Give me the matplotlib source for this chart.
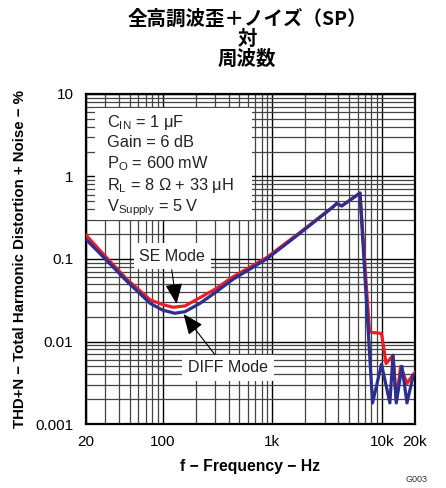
#!/usr/bin/env python3
import matplotlib
matplotlib.use("Agg")
import matplotlib.pyplot as plt
from matplotlib.ticker import FixedLocator, LogLocator, NullFormatter
from matplotlib.patches import Rectangle

plt.rcParams['font.family'] = ['Liberation Sans', 'DejaVu Sans']
plt.rcParams['mathtext.default'] = 'regular'

# THD+N (%) vs frequency (Hz)
se_freq = [20, 30, 47, 77, 100, 125, 160, 219, 300, 440, 887, 1786, 3590,
           3860, 4300, 6300, 7700, 9900, 10900, 12600, 13500, 14800, 16900,
           19300, 20000]
se_thdn = [0.195, 0.108, 0.057, 0.032, 0.028, 0.026, 0.027, 0.034, 0.043,
           0.061, 0.104, 0.21, 0.43, 0.47, 0.44, 0.63, 0.013, 0.0125, 0.0054,
           0.0068, 0.0019, 0.005, 0.0031, 0.004, 0.0042]

diff_freq = [20, 30, 47, 77, 100, 129, 160, 219, 300, 440, 887, 1786, 3590,
             3860, 4300, 6300, 8200, 9900, 11800, 12600, 13500, 15200, 16900,
             19300, 20000]
diff_thdn = [0.173, 0.10, 0.054, 0.029, 0.024, 0.022, 0.023, 0.029, 0.039,
             0.057, 0.10, 0.205, 0.43, 0.47, 0.44, 0.63, 0.0018, 0.0053,
             0.0018, 0.0068, 0.0018, 0.005, 0.0018, 0.0039, 0.004]

x_ticks = [20, 100, 1000, 10000, 20000]
x_labels = ["20", "100", "1k", "10k", "20k"]
y_ticks = [0.001, 0.01, 0.1, 1, 10]
y_labels = ["0.001", "0.01", "0.1", "1", "10"]

conditions = [r"C$_{IN}$ = 1 μF", "Gain = 6 dB", r"P$_{O}$ = 600 mW",
              r"R$_{L}$ = 8 Ω + 33 μH", r"V$_{Supply}$ = 5 V"]

fig = plt.figure(figsize=(4.46, 4.88), dpi=100)
ax = fig.add_axes([86/446, 1-424/488, 329/446, 330/488])

ax.set_xscale('log')
ax.set_yscale('log')
ax.set_xlim(20, 20000)
ax.set_ylim(0.001, 10)

ax.xaxis.set_major_locator(FixedLocator(x_ticks))
ax.set_xticklabels(x_labels)
ax.xaxis.set_minor_locator(LogLocator(base=10, subs=range(2, 10), numticks=20))
ax.xaxis.set_minor_formatter(NullFormatter())
ax.yaxis.set_major_locator(FixedLocator(y_ticks))
ax.set_yticklabels(y_labels)
ax.yaxis.set_minor_locator(LogLocator(base=10, subs=range(2, 10), numticks=20))
ax.yaxis.set_minor_formatter(NullFormatter())

ax.tick_params(which='both', length=0)
ax.tick_params(axis='x', pad=8, labelsize=11)
ax.tick_params(axis='y', pad=9, labelsize=11)

ax.set_axisbelow(True)
ax.grid(which='major', color='black', lw=1.0)
ax.grid(which='minor', color='#444444', lw=0.9)
for s in ax.spines.values():
    s.set_linewidth(1.6)

ax.plot(se_freq, se_thdn, color='#ee1c25', lw=2.3, zorder=3)
ax.plot(diff_freq, diff_thdn, color='#2b2f8f', lw=2.3, zorder=4)

# conditions box
ax.add_patch(Rectangle((0.027, 0.618), 0.477, 0.34, transform=ax.transAxes,
                       facecolor='white', edgecolor='none', zorder=2))
for yy, t in zip([0.90, 0.839, 0.776, 0.709, 0.645], conditions):
    ax.text(0.064, yy, t, transform=ax.transAxes, fontsize=11.8,
            va='baseline', ha='left', color='#222222', zorder=5)

# annotations
arr = dict(arrowstyle='-|>,head_length=0.9,head_width=0.38', color='black',
           lw=0.8, mutation_scale=14, shrinkA=0, shrinkB=0)
ax.annotate('', xy=(134, 0.0285), xytext=(121, 0.074), arrowprops=arr, zorder=6)
ax.annotate('', xy=(155, 0.0215), xytext=(300, 0.0069), arrowprops=arr, zorder=6)
ax.text(122, 0.108, "SE Mode", fontsize=11.5, ha='center', va='center',
        color='#222222', zorder=5,
        bbox=dict(facecolor='white', edgecolor='none', pad=4))
ax.text(394, 0.0048, "DIFF Mode", fontsize=11.5, ha='center', va='center',
        color='#222222', zorder=5,
        bbox=dict(facecolor='white', edgecolor='none', pad=4))

ax.set_xlabel("f − Frequency − Hz", fontsize=11.3, fontweight='bold', labelpad=7)
ax.set_ylabel("THD+N − Total Harmonic Distortion + Noise − %", fontsize=10.8,
              fontweight='bold', labelpad=6)

fig.text(247/446, 1-39/488, "全高調波歪＋ノイズ（SP）\n対\n周波数",
         ha='center', va='center', fontsize=14, fontweight='bold',
         linespacing=1.05, family=['Noto Sans CJK JP', 'DejaVu Sans'])
fig.text(427/446, 1-480/488, "G003", ha='right', va='center', fontsize=6.5,
         color='#333333')

fig.savefig("out.png", dpi=100)
